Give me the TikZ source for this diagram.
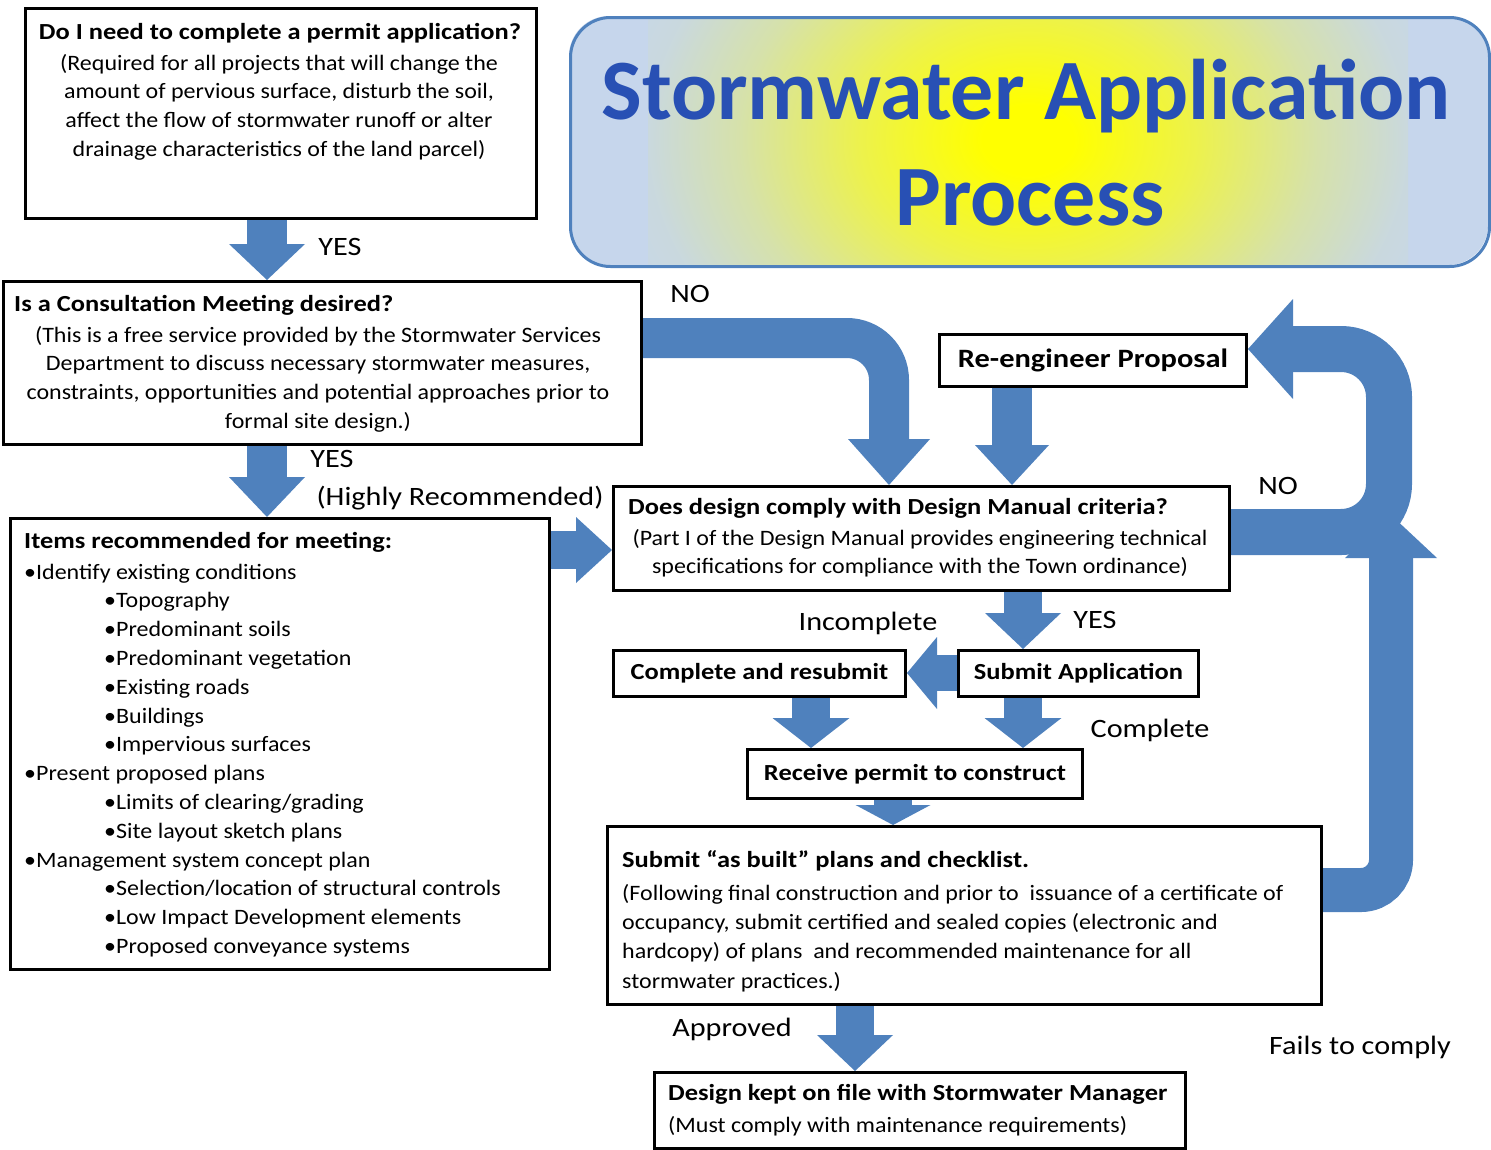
\documentclass[tikz,border=0pt]{standalone}
\usepackage{fontspec}
\setmainfont{Carlito}
\newfontfamily\bodyfont{Carlito}[FakeStretch=1.09]
\newfontfamily\boldfont{Carlito}[FakeStretch=1.15]
\newfontfamily\lblfont{Carlito}[FakeStretch=1.14]
\usetikzlibrary{arrows.meta,calc}
\definecolor{arrowblue}{RGB}{79,129,189}
\definecolor{titleblue}{RGB}{40,80,180}
\definecolor{edgeblue}{RGB}{198,214,236}
\definecolor{frameblue}{RGB}{79,129,189}
\pgfdeclareradialshading{titleshade}{\pgfpoint{0bp}{0bp}}{color(0bp)=(yellow);color(3bp)=(yellow);color(11bp)=(yellow!68!edgeblue);color(19bp)=(yellow!28!edgeblue);color(25bp)=(yellow!6!edgeblue);color(30bp)=(edgeblue);color(50bp)=(edgeblue)}
\pgfdeclarelayer{bg}
\pgfsetlayers{bg,main}
\tikzset{
 box/.style={draw=black, line width=3pt, fill=white, inner sep=0pt, anchor=north west},
 ttl/.style={font=\boldfont\fontsize{23}{28.8}\selectfont\bfseries, inner sep=0pt},
 bodytxt/.style={font=\bodyfont\fontsize{22}{28.8}\selectfont, inner sep=0pt},
 lbl/.style={font=\lblfont\fontsize{26.5}{30}\selectfont, inner sep=0pt, anchor=base},
 smallttl/.style={font=\boldfont\fontsize{23}{26}\selectfont\bfseries},
 blk/.style={draw=arrowblue, line width=40pt, -{Triangle[width=76pt,length=36pt,line width=0pt]}},
}
\begin{document}
\begin{tikzpicture}[x=1pt,y=-1pt]
\useasboundingbox (0,0) rectangle (1491,1149);
% title background
\begin{scope}
\clip[rounded corners=40pt] (569,16) rectangle (1488,265);
\fill[edgeblue] (569,16) rectangle (1488,265);
\shade[shading=titleshade] (648,-150) rectangle (1408,430);
\end{scope}
\node[draw=frameblue, line width=3pt, rounded corners=40pt, minimum width=919pt, minimum height=249pt, anchor=north west, inner sep=0pt] (title) at (569,16) {};
\node[font=\fontsize{86}{90}\selectfont\bfseries, text=titleblue, anchor=base, inner sep=0pt] (t1) at (1026,119) {Stormwater Application};
\node[font=\fontsize{86}{90}\selectfont\bfseries, text=titleblue, anchor=base, inner sep=0pt] (t2) at (1030,225) {Process};
% boxes
\node[box, minimum width=511pt, minimum height=210pt] (q1) at (24,7) {};
\node[box, minimum width=638pt, minimum height=163pt] (q2) at (2,280) {};
\node[box, minimum width=539pt, minimum height=451pt] (items) at (9,517) {};
\node[box, minimum width=616pt, minimum height=104pt] (q3) at (612,485) {};
\node[box, minimum width=307pt, minimum height=52pt, font=\boldfont\fontsize{26.5}{30}\selectfont\bfseries] (reeng) at (938,333) {Re-engineer Proposal};
\node[box, minimum width=292pt, minimum height=46pt, smallttl] (resub) at (612,649) {Complete and resubmit};
\node[box, minimum width=240pt, minimum height=46pt, smallttl] (submit) at (957,649) {Submit Application};
\node[box, minimum width=335pt, minimum height=49pt, smallttl] (permit) at (746,748) {Receive permit to construct};
\node[box, minimum width=714pt, minimum height=178pt] (asbuilt) at (606,825) {};
\node[box, minimum width=531pt, minimum height=76pt] (onfile) at (653,1071) {};
% texts
\node[ttl, anchor=base] (q1t) at (280,39) {Do I need to complete a permit application?};
\node[bodytxt, align=center, anchor=north] (q1b) at (279,49.7) {\strut(Required for all projects that will change the\\amount of pervious surface, disturb the soil,\\affect the flow of stormwater runoff or alter\\drainage characteristics of the land parcel)};
\node[ttl, anchor=base west] (q2t) at (14,311) {Is a Consultation Meeting desired?};
\node[bodytxt, align=center, anchor=north] (q2b) at (318,321.7) {\strut(This is a free service provided by the Stormwater Services\\Department to discuss necessary stormwater measures,\\constraints, opportunities and potential approaches prior to\\formal site design.)};
\node[ttl, anchor=base west] (it) at (24,548) {Items recommended for meeting:};
\node[bodytxt, align=left, anchor=north west] (ib) at (24,558.7) {\strut•Identify existing conditions\\
\hspace*{80pt}•Topography\\
\hspace*{80pt}•Predominant soils\\
\hspace*{80pt}•Predominant vegetation\\
\hspace*{80pt}•Existing roads\\
\hspace*{80pt}•Buildings\\
\hspace*{80pt}•Impervious surfaces\\
•Present proposed plans\\
\hspace*{80pt}•Limits of clearing/grading\\
\hspace*{80pt}•Site layout sketch plans\\
•Management system concept plan\\
\hspace*{80pt}•Selection/location of structural controls\\
\hspace*{80pt}•Low Impact Development elements\\
\hspace*{80pt}•Proposed conveyance systems};
\node[ttl, anchor=base west] (q3t) at (628,514) {Does design comply with Design Manual criteria?};
\node[bodytxt, align=center, anchor=north] (q3b) at (920,524.7) {\strut(Part I of the Design Manual provides engineering technical\\specifications for compliance with the Town ordinance)};
\node[ttl, anchor=base west] (abt) at (622,867) {Submit “as built” plans and checklist.};
\node[bodytxt, font=\bodyfont\fontsize{22}{29.3}\selectfont, align=left, anchor=north west] (abb) at (622,879.5) {\strut(Following final construction and prior to\ \ issuance of a certificate of\\occupancy, submit certified and sealed copies (electronic and\\hardcopy) of plans\ \ and recommended maintenance for all\\stormwater practices.)};
\node[ttl, anchor=base west] (oft) at (668,1100) {Design kept on file with Stormwater Manager};
\node[bodytxt, anchor=base west] (ofb) at (668,1132) {(Must comply with maintenance requirements)};
% labels
\node[lbl] (l1) at (340,255.5) {YES};
\node[lbl] (l2) at (690,302) {NO};
\node[lbl] (l3) at (332,467) {YES};
\node[lbl] (l4) at (460,505) {(Highly Recommended)};
\node[lbl] (l5) at (1278,494) {NO};
\node[lbl] (l6) at (868,630) {Incomplete};
\node[lbl] (l7) at (1095,628) {YES};
\node[lbl] (l8) at (1150,737) {Complete};
\node[lbl] (l9) at (732,1036) {Approved};
\node[lbl] (l10) at (1360,1054) {Fails to comply};
% helper coordinates
\coordinate (xa) at (267,0);
\coordinate (xb) at (889,0);
\coordinate (xc) at (1012,0);
\coordinate (xd) at (1389,0);
\coordinate (xf) at (1023,0);
\coordinate (xg) at (811,0);
\coordinate (xh) at (893,0);
\coordinate (xi) at (855,0);
\coordinate (ya) at (0,550);
\coordinate (yb) at (0,338);
\coordinate (yc) at (0,532);
\coordinate (yd) at (0,349);
\coordinate (ye) at (0,890);
\coordinate (yf) at (0,673);
\coordinate (uptip) at (1391,515);
\begin{pgfonlayer}{bg}
\draw[blk] (q1.south -| xa) -- (q2.north -| xa);
\draw[blk, -{Triangle[width=76pt,length=40pt,line width=0pt]}] (q2.south -| xa) -- (items.north -| xa);
\draw[blk, line width=38pt, -{Triangle[width=66pt,length=36pt,line width=0pt]}] (items.east |- ya) -- (q3.west |- ya);
\draw[blk, line width=40pt, rounded corners=42pt, -{Triangle[width=82pt,length=46pt,line width=0pt]}] (q2.east |- yb) -| (q3.north -| xb);
\draw[blk, -{Triangle[width=74pt,length=40pt,line width=0pt]}] (reeng.south -| xc) -- (q3.north -| xc);
\draw[blk, line width=44pt, rounded corners=30pt, -{Triangle[width=92pt,length=43pt,line width=0pt]}] (asbuilt.east |- ye) -| (uptip);
\draw[blk, line width=46pt, rounded corners=48pt, -{Triangle[width=100pt,length=45pt,line width=0pt]}] (q3.east |- yc) -| (xd |- yd) -- (reeng.east |- yd);
\draw[blk, line width=38pt] (q3.south -| xf) -- (submit.north -| xf);
\draw[blk, line width=36pt, -{Triangle[width=72pt,length=30pt,line width=0pt]}] (submit.west |- yf) -- (resub.east |- yf);
\draw[blk, line width=38pt, -{Triangle[width=77pt,length=30pt,line width=0pt]}] (resub.south -| xg) -- (permit.north -| xg);
\draw[blk, line width=38pt, -{Triangle[width=77pt,length=30pt,line width=0pt]}] (submit.south -| xf) -- (permit.north -| xf);
\draw[blk, line width=38pt, -{Triangle[width=75pt,length=20pt,line width=0pt]}] (permit.south -| xh) -- (asbuilt.north -| xh);
\draw[blk, line width=38pt] (asbuilt.south -| xi) -- (onfile.north -| xi);
\end{pgfonlayer}
\end{tikzpicture}
\end{document}
